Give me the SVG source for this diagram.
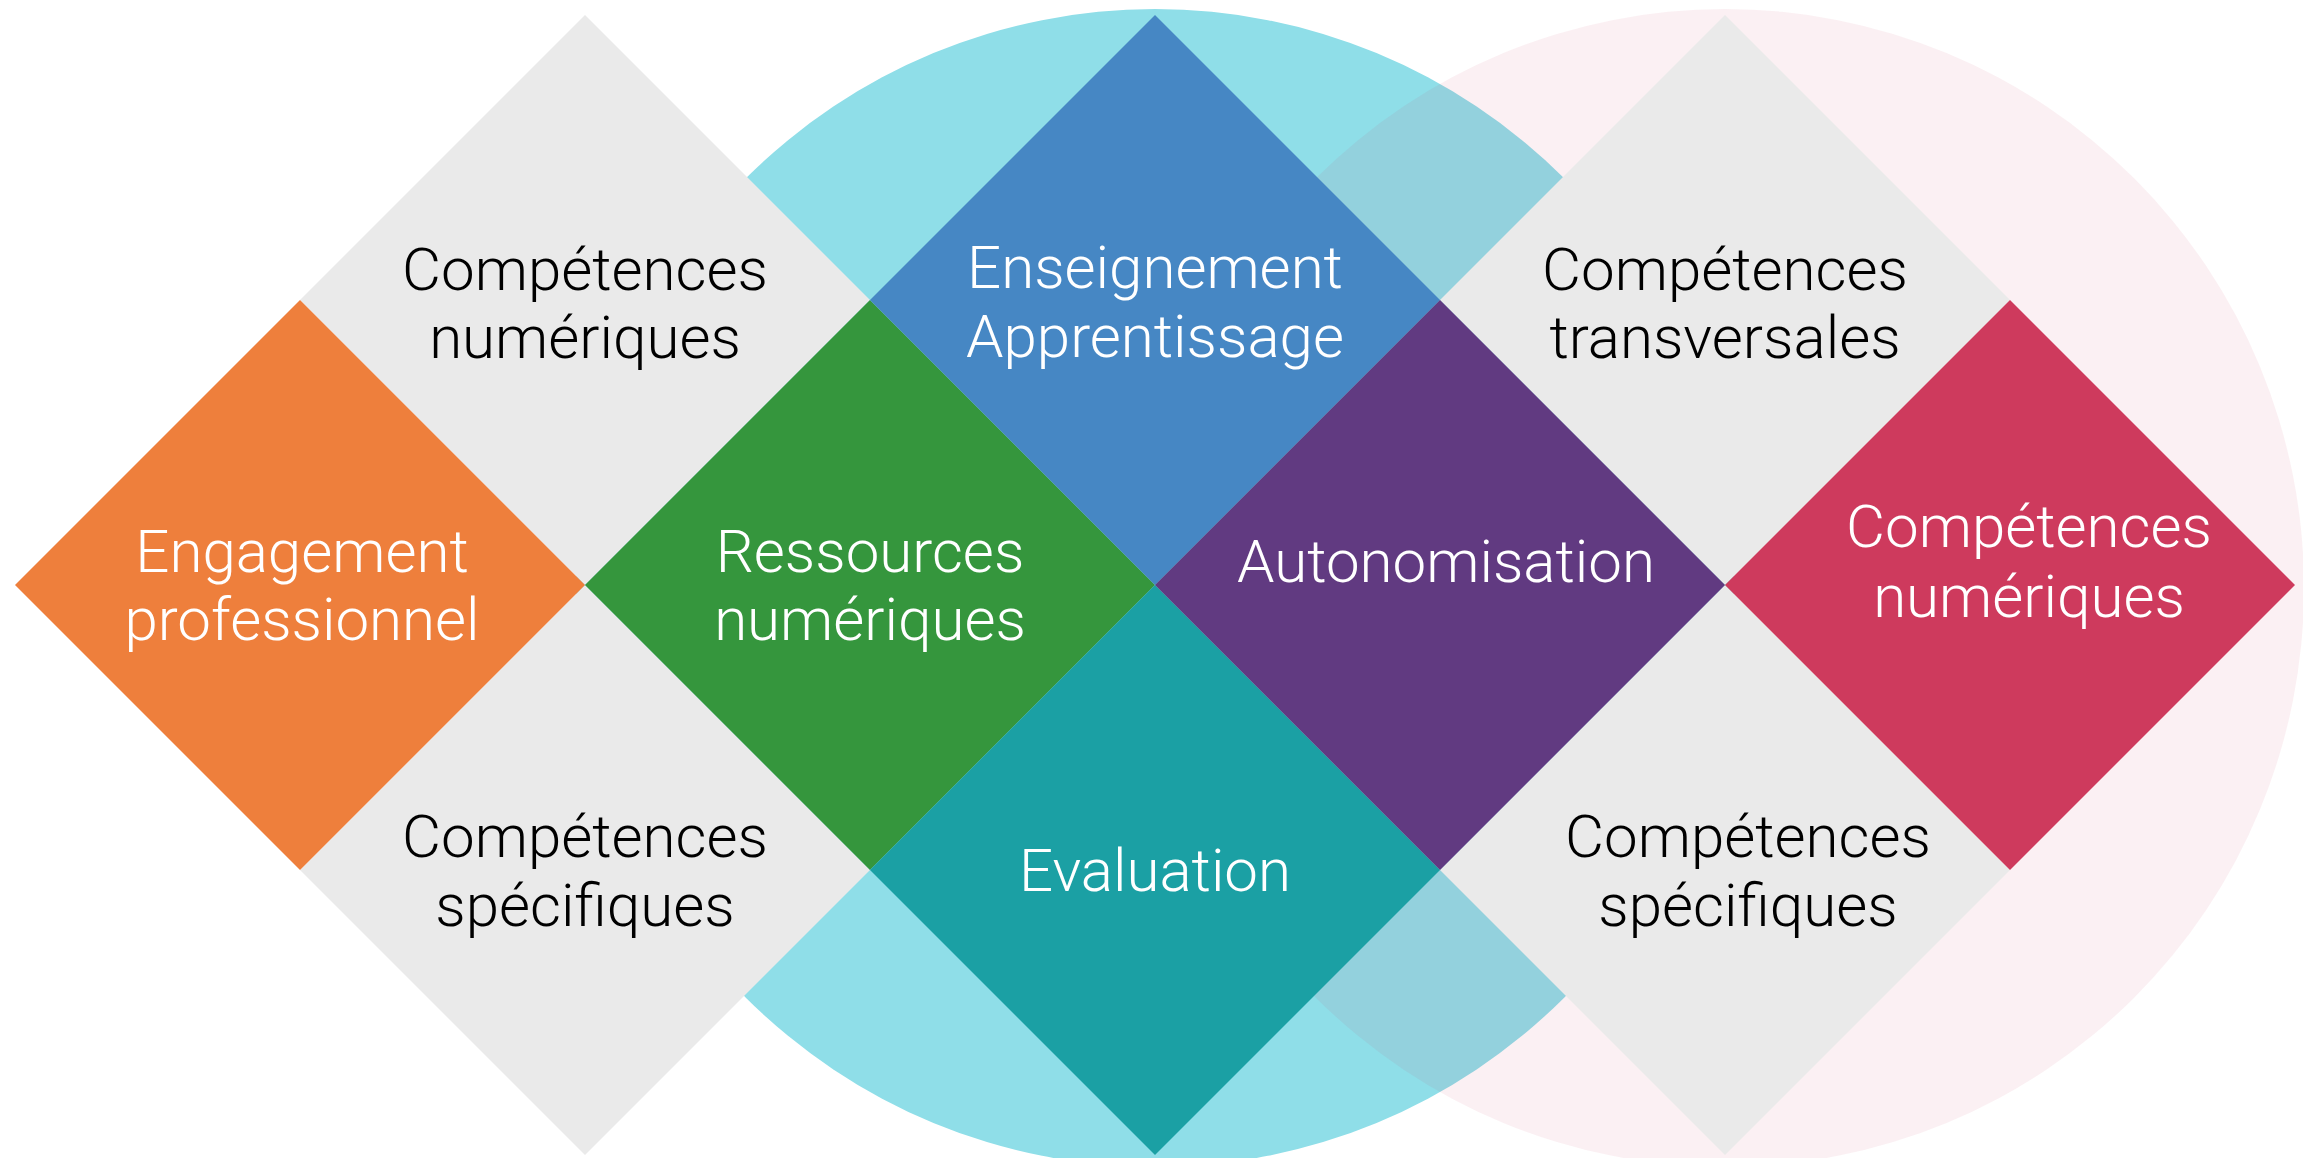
<svg xmlns="http://www.w3.org/2000/svg" width="2303" height="1158" viewBox="0 0 2303 1158">
<style>
.t{font-family:Roboto,"Liberation Sans",sans-serif;font-weight:300;font-size:60px;text-anchor:middle}
.dk{fill:#000}
.lt{fill:#fff}
.grey{fill:#EAEAEA}
</style>
<rect width="2303" height="1158" fill="#fff"/>
<g id="circles">
<circle id="circle-cyan" cx="1155" cy="588" r="579" fill="#8FDEE8"/>
<circle id="circle-pink" cx="1725" cy="588" r="579" fill="#CE3A5D" fill-opacity="0.075"/>
</g>
<g id="connectors"/>
<g id="node-comp-num-top">
<polygon class="grey" points="585,15 870,300 585,585 300,300"/>
<text class="t dk" x="585" y="290">Compétences</text>
<text class="t dk" x="585" y="358">numériques</text>
</g>
<g id="node-comp-spec-left">
<polygon class="grey" points="585,585 870,870 585,1155 300,870"/>
<text class="t dk" x="585" y="857">Compétences</text>
<text class="t dk" x="585" y="926">spécifiques</text>
</g>
<g id="node-comp-transv">
<polygon class="grey" points="1725,15 2010,300 1725,585 1440,300"/>
<text class="t dk" x="1725" y="290">Compétences</text>
<text class="t dk" x="1725" y="358">transversales</text>
</g>
<g id="node-comp-spec-right">
<polygon class="grey" points="1725,585 2010,870 1725,1155 1440,870"/>
<text class="t dk" x="1748" y="857">Compétences</text>
<text class="t dk" x="1748" y="926">spécifiques</text>
</g>
<g id="node-engagement">
<polygon points="300,300 585,585 300,870 15,585" fill="#EE7F3C"/>
<text class="t lt" x="302" y="572">Engagement</text>
<text class="t lt" x="302" y="640">professionnel</text>
</g>
<g id="node-ressources">
<polygon points="870,300 1155,585 870,870 585,585" fill="#35963D"/>
<text class="t lt" x="870" y="572">Ressources</text>
<text class="t lt" x="870" y="640">numériques</text>
</g>
<g id="node-enseignement">
<polygon points="1155,15 1440,300 1155,585 870,300" fill="#4687C4"/>
<text class="t lt" x="1155" y="288">Enseignement</text>
<text class="t lt" x="1155" y="357">Apprentissage</text>
</g>
<g id="node-evaluation">
<polygon points="1155,585 1440,870 1155,1155 870,870" fill="#1BA0A4"/>
<text class="t lt" x="1155" y="891">Evaluation</text>
</g>
<g id="node-autonomisation">
<polygon points="1440,300 1725,585 1440,870 1155,585" fill="#613A81"/>
<text class="t lt" x="1446" y="582">Autonomisation</text>
</g>
<g id="node-comp-num-right">
<polygon points="2010,300 2295,585 2010,870 1725,585" fill="#CE3A5D"/>
<text class="t lt" x="2029" y="547">Compétences</text>
<text class="t lt" x="2029" y="617">numériques</text>
</g>
</svg>
